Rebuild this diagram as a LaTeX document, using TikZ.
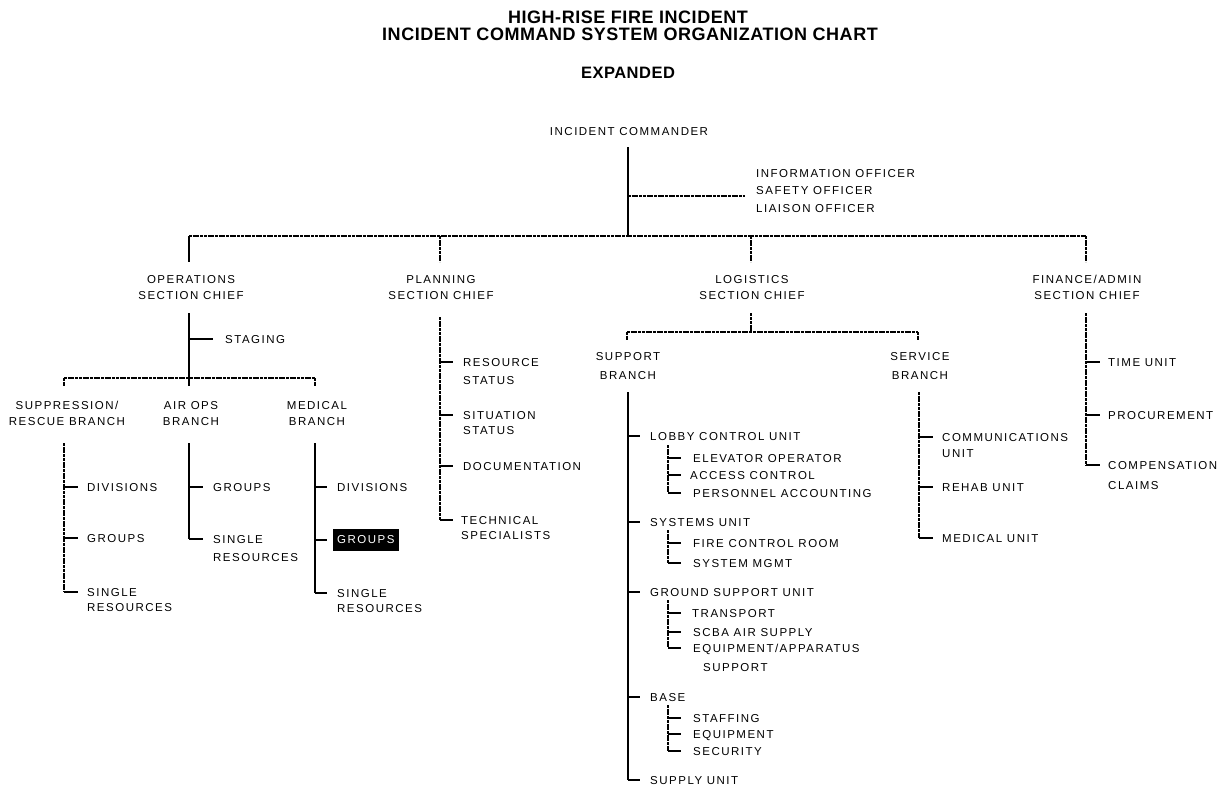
\documentclass[tikz,border=0pt]{standalone}
\usepackage{fontspec}
\setmainfont{Liberation Sans}
\newfontfamily\bodyfont{Liberation Sans}[LetterSpace=13]
\newfontfamily\headfont{Liberation Sans}[LetterSpace=3]
\usetikzlibrary{calc}
\newcommand\bodysz{\bodyfont\fontsize{11.5}{17}\selectfont}
\newcommand\headsz{\headfont\bfseries\fontsize{18}{20}\selectfont}
% item: name, position of first line (left x, centre y), text
\newcommand\itm[4][]{\path (#3) coordinate (#2p) node[lt,#1] (#2) {#4};}
% tick from a spine coordinate to an item
\newcommand\tk[3]{\draw[tickline] (#1 |- #2p) -- ([xshift=-#3]#2p);}
\begin{document}
\begin{tikzpicture}[x=1pt,y=-1pt,
  txt/.style={inner sep=0pt, font=\bodysz},
  lt/.style={txt, anchor=north west, yshift=4.1pt, align=left},
  ct/.style={txt, anchor=north, yshift=4.1pt, align=center},
  ttl/.style={inner sep=0pt, anchor=center, font=\headsz},
  thk/.style={line width=1.8pt},
  dsh/.style={line width=1.2pt, dash pattern=on 3pt off 0.7pt},
  tickline/.style={line width=1.2pt},
  inv/.style={txt, anchor=west, fill=black, text=white, inner xsep=4pt, inner ysep=7pt, xshift=-4pt}]
\fill[white] (0,0) rectangle (1228,789);
\useasboundingbox (0,0) rectangle (1228,789);

% titles
\node[ttl] (t1) at (628,17) {HIGH-RISE FIRE INCIDENT};
\node[ttl] (t2) at (630,34) {INCIDENT COMMAND SYSTEM ORGANIZATION CHART};
\node[ttl, font=\headfont\bfseries\fontsize{16.5}{18}\selectfont] (t3) at (628,73) {EXPANDED};

% incident commander and officers
\node[ct] (ic) at (629,131) {INCIDENT COMMANDER};
\node[lt] (off) at (756,173) {INFORMATION OFFICER\\SAFETY OFFICER\\[1pt]LIAISON OFFICER};
\coordinate (icJ) at (628,236);
\coordinate (offJ) at (628,196);
\draw[thk, shorten <=12pt] (icJ |- ic.south) -- (icJ);
\draw[dsh] (offJ) -- ([xshift=-11pt]offJ -| off.west);

% section chiefs
\node[ct] (ops) at (191,279) {OPERATIONS\\[-1pt]SECTION CHIEF};
\node[ct] (plan) at (441,279) {PLANNING\\[-1pt]SECTION CHIEF};
\node[ct] (log) at (752,279) {LOGISTICS\\[-1pt]SECTION CHIEF};
\node[ct] (fin) at (1087,279) {FINANCE/ADMIN\\[-1pt]SECTION CHIEF};
\coordinate (cOps) at (189,236);
\coordinate (cPlan) at (440,236);
\coordinate (cLog) at (751,236);
\coordinate (cFin) at (1086,236);
\draw[dsh] (cOps) -- (cFin);
\draw[thk, shorten >=13pt] (cOps) -- (cOps |- ops.north);
\draw[dsh, shorten >=13pt] (cPlan) -- (cPlan |- plan.north);
\draw[dsh, shorten >=13pt] (cLog) -- (cLog |- log.north);
\draw[dsh, shorten >=13pt] (cFin) -- (cFin |- fin.north);

% operations
\node[ct] (sup) at (67,405) {SUPPRESSION/\\[-1pt]RESCUE BRANCH};
\node[ct] (air) at (191,405) {AIR OPS\\[-1pt]BRANCH};
\node[ct] (med) at (317,405) {MEDICAL\\[-1pt]BRANCH};
\itm{stg}{225,339}{STAGING}
\draw[thk, shorten <=14pt, shorten >=15pt] (cOps |- ops.south) -- (cOps |- air.north);
\tk{cOps}{stg}{12pt}
\coordinate (oL) at (64,378);
\coordinate (oR) at (315,378);
\draw[dsh] (oL) -- (oR);
\draw[dsh, shorten >=15pt] (oL) -- (oL |- sup.north);
\draw[dsh, shorten >=15pt] (oR) -- (oR |- med.north);

% suppression / rescue branch
\coordinate (supS) at (64,443);
\itm{sdiv}{87,487}{DIVISIONS}
\itm{sgrp}{87,538}{GROUPS}
\itm{ssgl}{87,592}{SINGLE\\[-2pt]RESOURCES}
\draw[dsh] (supS) -- (supS |- ssglp);
\tk{supS}{sdiv}{9pt}
\tk{supS}{sgrp}{9pt}
\tk{supS}{ssgl}{9pt}

% air ops branch
\coordinate (airS) at (189,443);
\itm{agrp}{213,487}{GROUPS}
\itm{asgl}{213,539}{SINGLE\\[1pt]RESOURCES}
\draw[thk] (airS) -- (airS |- asglp);
\tk{airS}{agrp}{10pt}
\tk{airS}{asgl}{10pt}

% medical branch
\coordinate (medS) at (315,443);
\itm{mdiv}{337,487}{DIVISIONS}
\path (337,540) coordinate (mgrpp) node[inv] (mgrp) {GROUPS};
\itm{msgl}{337,593}{SINGLE\\[-2pt]RESOURCES}
\draw[thk] (medS) -- (medS |- msglp);
\tk{medS}{mdiv}{10pt}
\tk{medS}{mgrp}{10pt}
\tk{medS}{msgl}{10pt}

% planning
\coordinate (planS) at (440,317);
\itm{res}{463,362}{RESOURCE\\[1pt]STATUS}
\itm{sit}{463,415}{SITUATION\\[-2pt]STATUS}
\itm{doc}{463,466}{DOCUMENTATION}
\itm{tech}{461,520}{TECHNICAL\\[-2pt]SPECIALISTS}
\draw[dsh] (planS) -- (planS |- techp);
\tk{planS}{res}{10pt}
\tk{planS}{sit}{10pt}
\tk{planS}{doc}{10pt}
\tk{planS}{tech}{8pt}

% logistics
\node[ct] (spt) at (628,356) {SUPPORT\\[2pt]BRANCH};
\node[ct] (svc) at (920,356) {SERVICE\\[2pt]BRANCH};
\coordinate (lbus) at (751,332);
\coordinate (lL) at (627,332);
\coordinate (lR) at (918,332);
\draw[dsh, shorten <=14pt] (cLog |- log.south) -- (lbus);
\draw[dsh] (lL) -- (lR);
\draw[dsh, shorten >=12pt] (lL) -- (lL |- spt.north);
\draw[dsh, shorten >=12pt] (lR) -- (lR |- svc.north);

% support branch
\coordinate (sptS) at (628,392);
\itm{lob}{650,436}{LOBBY CONTROL UNIT}
\itm{sys}{650,522}{SYSTEMS UNIT}
\itm{grd}{650,592}{GROUND SUPPORT UNIT}
\itm{bas}{650,697}{BASE}
\itm{sply}{650,780}{SUPPLY UNIT}
\draw[thk] (sptS) -- (sptS |- splyp);
\tk{sptS}{lob}{10pt}
\tk{sptS}{sys}{10pt}
\tk{sptS}{grd}{10pt}
\tk{sptS}{bas}{10pt}
\tk{sptS}{sply}{10pt}

\coordinate (lobS) at (668,445);
\itm{elev}{693,458}{ELEVATOR OPERATOR}
\itm{acc}{690,475}{ACCESS CONTROL}
\itm{pers}{693,493}{PERSONNEL ACCOUNTING}
\draw[dsh] (lobS) -- (lobS |- persp);
\tk{lobS}{elev}{12pt}
\tk{lobS}{acc}{9pt}
\tk{lobS}{pers}{12pt}

\coordinate (sysS) at (668,530);
\itm{fire}{693,543}{FIRE CONTROL ROOM}
\itm{sysm}{693,563}{SYSTEM MGMT}
\draw[dsh] (sysS) -- (sysS |- sysmp);
\tk{sysS}{fire}{12pt}
\tk{sysS}{sysm}{12pt}

\coordinate (grdS) at (668,600);
\itm{trn}{692,613}{TRANSPORT}
\itm{scba}{693,632}{SCBA AIR SUPPLY}
\itm{eqa}{693,648}{EQUIPMENT/APPARATUS\\[2pt]\hspace*{10pt}SUPPORT}
\draw[dsh] (grdS) -- (grdS |- eqap);
\tk{grdS}{trn}{11pt}
\tk{grdS}{scba}{12pt}
\tk{grdS}{eqa}{12pt}

\coordinate (basS) at (668,705);
\itm{stf}{693,718}{STAFFING}
\itm{eqb}{693,734}{EQUIPMENT}
\itm{sec}{693,751}{SECURITY}
\draw[dsh] (basS) -- (basS |- secp);
\tk{basS}{stf}{12pt}
\tk{basS}{eqb}{12pt}
\tk{basS}{sec}{12pt}

% service branch
\coordinate (svcS) at (919,392);
\itm{com}{942,437}{COMMUNICATIONS\\[-1pt]UNIT}
\itm{reh}{942,487}{REHAB UNIT}
\itm{mu}{942,538}{MEDICAL UNIT}
\draw[dsh] (svcS) -- (svcS |- mup);
\tk{svcS}{com}{9pt}
\tk{svcS}{reh}{9pt}
\tk{svcS}{mu}{9pt}

% finance / admin
\coordinate (finS) at (1086,313);
\itm{time}{1108,362}{TIME UNIT}
\itm{proc}{1108,415}{PROCUREMENT}
\itm{comp}{1108,465}{COMPENSATION\\[3pt]CLAIMS}
\draw[dsh] (finS) -- (finS |- compp);
\tk{finS}{time}{8pt}
\tk{finS}{proc}{8pt}
\tk{finS}{comp}{8pt}
\end{tikzpicture}
\end{document}
